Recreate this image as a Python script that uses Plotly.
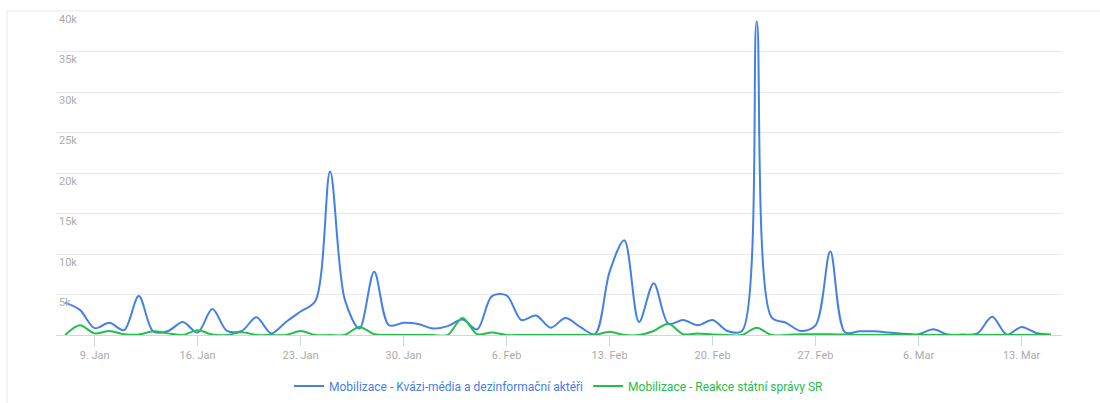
"""
Mobilizace - denní počty zmínek (spline)
"""
import plotly.graph_objects as go
import pandas as pd

# denní řada 7. 1. – 15. 3.
dates = pd.date_range("2023-01-07", "2023-03-15", freq="D")

kvazi_media = [
    4000, 3100, 850, 1500, 600, 4800, 400, 500, 1600, 300,
    3200, 500, 500, 2200, 200, 1600, 2900, 4200, 20200, 4400,
    800, 7800, 1200, 1500, 1350, 800, 1100, 1900, 700, 4800,
    4900, 1850, 2400, 900, 2100, 1000, 100, 7800, 11700, 1600,
    6400, 1400, 1850, 1200, 1850, 500, 500, 38700, 2200, 1500,
    500, 1200, 10300, 330, 450, 450, 300, 150, 100, 700,
    50, 50, 200, 2250, 50, 1000, 250, 50,
]

reakce_sr = [
    0, 1200, 200, 500, 100, 50, 450, 200, 0, 600,
    50, 0, 350, 0, 0, 0, 500, 0, 0, 0,
    1000, 100, 0, 0, 0, 0, 0, 2100, 100, 300,
    0, 0, 0, 0, 0, 0, 0, 400, 0, 0,
    500, 1400, 100, 200, 50, 0, 0, 900, 0, 0,
    100, 100, 100, 50, 0, 0, 0, 0, 0, 0,
    0, 0, 0, 0, 0, 0, 0, 0,
]

BLUE = "#4580e6"
GREEN = "#25bd4c"
TICK = "#ababab"

W, H = 1100, 403
L, R, T, B = 56, 1062, 11, 335


def px(x):
    return (x - L) / (R - L)


def py(y):
    return (B - y) / (B - T)


fig = go.Figure()

fig.add_trace(go.Scatter(
    x=dates, y=kvazi_media,
    mode="lines",
    name=f'<span style="color:{BLUE}">Mobilizace - Kvázi-média a dezinformační aktéři</span>',
    line=dict(color=BLUE, width=2, shape="spline", smoothing=0.9),
))

fig.add_trace(go.Scatter(
    x=dates, y=reakce_sr,
    mode="lines",
    name=f'<span style="color:{GREEN}">Mobilizace - Reakce státní správy SR</span>',
    line=dict(color=GREEN, width=2, shape="spline", smoothing=0.9),
))

# rámeček karty
fig.add_shape(type="line", xref="paper", yref="paper",
              x0=px(7), x1=px(1100), y0=py(11), y1=py(11),
              line=dict(color="#ebebeb", width=1), layer="below")
fig.add_shape(type="line", xref="paper", yref="paper",
              x0=px(7), x1=px(7), y0=py(11), y1=py(403),
              line=dict(color="#ebebeb", width=1), layer="below")

fig.update_layout(
    width=W, height=H,
    margin=dict(l=L, r=W - R, t=T, b=H - B, autoexpand=False),
    template="plotly_white",
    plot_bgcolor="white",
    paper_bgcolor="white",
    font=dict(family="Roboto, sans-serif", size=11, color=TICK),
    showlegend=True,
    legend=dict(
        orientation="h",
        x=0.5, xanchor="center",
        y=py(386), yanchor="middle",
        font=dict(size=12),
        itemwidth=30,
    ),
)

fig.update_xaxes(
    range=[pd.Timestamp("2023-01-07") - pd.Timedelta(hours=15),
           pd.Timestamp("2023-03-15") + pd.Timedelta(hours=18)],
    tick0="2023-01-09",
    dtick=7 * 24 * 3600 * 1000,
    tickformat="%-d. %b",
    tickfont=dict(color=TICK, size=11),
    showgrid=False,
    showline=True, linecolor="#ccd6eb", linewidth=1,
    ticks="outside", ticklen=10, tickcolor="#ccd6eb",
    zeroline=False,
)

fig.update_yaxes(
    range=[0, 40000],
    dtick=5000,
    tickformat="~s",
    tickfont=dict(color=TICK, size=11),
    gridcolor="#e9e9e9",
    ticklabelposition="inside bottom",
    zeroline=False,
    showline=False,
)

fig.write_html("out.html", config={"displayModeBar": False},
               post_script="document.body.style.margin='0';")
